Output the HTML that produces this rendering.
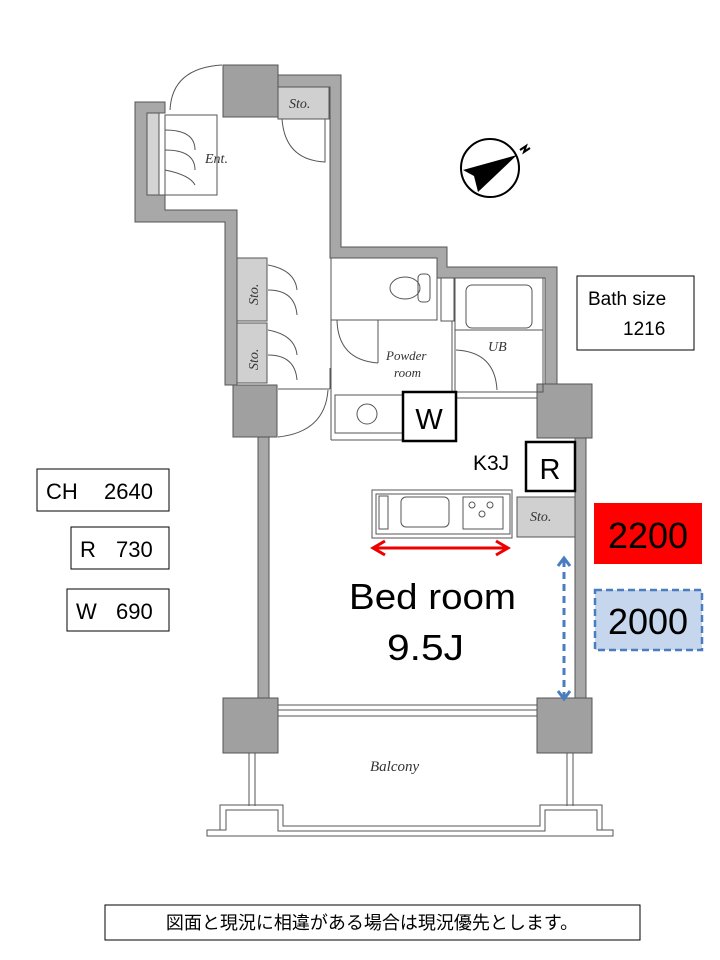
<!DOCTYPE html>
<html><head><meta charset="utf-8"><style>
body{margin:0;background:#fff;}
svg{display:block;}
.t{font-family:"Liberation Sans","Noto Sans CJK JP",sans-serif;}
.s{font-family:"Liberation Serif",serif;font-style:italic;fill:#333;}
</style></head><body>
<svg width="720" height="960" viewBox="0 0 720 960" xmlns="http://www.w3.org/2000/svg">
<g stroke="#555" stroke-width="1">
<path d="M135,102 L165,102 L165,113 L147,113 L147,195 L165,195 L165,210 L237,210 L237,385 L225,385 L225,222 L135,222 Z" fill="#a8a8a8"/>
<rect x="147" y="113" width="12" height="82" fill="#d4d4d4"/>
<rect x="223" y="65" width="55" height="52" fill="#a0a0a0"/>
<path d="M278,75 L341,75 L341,247 L447,247 L447,267 L557,267 L557,385 L545,385 L545,278 L437,278 L437,258 L330,258 L330,87 L278,87 Z" fill="#a8a8a8"/>
<rect x="278" y="87" width="51" height="32" fill="#d0d0d0"/>
<rect x="233" y="385" width="44" height="52" fill="#a0a0a0"/>
<rect x="258" y="437" width="11" height="261" fill="#a8a8a8"/>
<rect x="237" y="258" width="30" height="63" fill="#d0d0d0"/>
<rect x="237" y="323" width="30" height="60" fill="#d0d0d0"/>
<rect x="537" y="384" width="55" height="54" fill="#a0a0a0"/>
<rect x="575" y="438" width="11" height="260" fill="#a8a8a8"/>
<rect x="223" y="698" width="55" height="55" fill="#a0a0a0"/>
<rect x="537" y="698" width="55" height="55" fill="#a0a0a0"/>
</g>
<g fill="none" stroke="#555" stroke-width="1">
<rect x="278" y="705" width="259" height="11"/>
<line x1="278" y1="710" x2="537" y2="710"/>
<rect x="165" y="115" width="52" height="80"/>
<path d="M165,130 Q195,130 195,150 M165,150 Q195,150 195,170 M165,170 Q190,175 195,185"/>
<path d="M170,110 Q172,68 222,65"/>
<path d="M282,119 Q285,160 325,162 L325,119"/>
<path d="M268,265 Q295,270 297,290 M268,290 Q295,290 297,315 M268,330 Q295,335 297,355 M268,355 Q295,355 297,380"/>
<rect x="331" y="258" width="106" height="62"/>
<rect x="441" y="278" width="13" height="43"/>
<ellipse cx="405" cy="288" rx="15" ry="11"/>
<rect x="418" y="274" width="12" height="28" rx="4"/>
<rect x="455" y="278" width="88" height="114"/>
<rect x="466" y="285" width="66" height="43" rx="6"/>
<line x1="455" y1="330" x2="543" y2="330"/>
<path d="M456,350 Q495,352 497,390"/>
<line x1="331" y1="320" x2="331" y2="440"/>
<line x1="337" y1="320" x2="378" y2="320"/>
<line x1="378" y1="320" x2="378" y2="363"/>
<path d="M337,320 Q338,360 378,363"/>
<line x1="452" y1="321" x2="452" y2="392"/>
<rect x="335" y="395" width="68" height="38"/>
<circle cx="367" cy="414" r="10"/>
<line x1="331" y1="440" x2="403" y2="440"/>
<line x1="456" y1="398" x2="537" y2="398"/>
<line x1="456" y1="392" x2="537" y2="392"/>
<line x1="278" y1="389" x2="330" y2="389"/>
<line x1="330" y1="368" x2="330" y2="389"/>
<path d="M278,437 Q325,432 328,390"/>
<rect x="372" y="490" width="140" height="48"/>
<rect x="376" y="494" width="134" height="40"/>
<rect x="379" y="496" width="9" height="33"/>
<rect x="401" y="497" width="48" height="30" rx="5"/>
<rect x="463" y="497" width="40" height="32"/>
<circle cx="472" cy="505" r="3"/><circle cx="490" cy="505" r="3"/><circle cx="482" cy="514" r="3"/>
<path d="M249,753 L249,806 M255,753 L255,806 M567,753 L567,806 M573,753 L573,806"/>
<path d="M207,836 L207,830 L220,830 L220,805 L283,805 L283,826 L540,826 L540,805 L602,805 L602,830 L613,830 L613,836 Z"/>
<path d="M213,830 L226,830 L226,810 L278,810 L278,831 L545,831 L545,810 L597,810 L597,830 L607,830"/>
<circle cx="490" cy="168" r="29" stroke="#000" stroke-width="2"/>
</g>
<rect x="517" y="497" width="58" height="40" fill="#d0d0d0" stroke="#555"/>
<path d="M463,170 L517,155 L478,192 L474,176 Z" fill="#000"/>
<path d="M520,150 l6,-4 l-2,6 l6,-4" fill="none" stroke="#000" stroke-width="2"/>
<text x="289" y="108" class="s" font-size="14">Sto.</text>
<text x="205" y="163" class="s" font-size="14">Ent.</text>
<text x="258" y="305" class="s" font-size="14" transform="rotate(-90 258 305)">Sto.</text>
<text x="258" y="370" class="s" font-size="14" transform="rotate(-90 258 370)">Sto.</text>
<text x="386" y="360" class="s" font-size="13">Powder</text>
<text x="394" y="377" class="s" font-size="13">room</text>
<text x="488" y="351" class="s" font-size="14">UB</text>
<text x="530" y="521" class="s" font-size="14">Sto.</text>
<text x="370" y="771" class="s" font-size="15">Balcony</text>
<g stroke="#e00" stroke-width="3" fill="none">
<line x1="373" y1="548" x2="508" y2="548"/>
<path d="M385,541 L373,548 L385,555 M496,541 L508,548 L496,555"/>
</g>
<g stroke="#4a7cc0" stroke-width="3" fill="none">
<line x1="564" y1="560" x2="564" y2="697" stroke-dasharray="7,5"/>
<path d="M558,566 L564,558 L570,566 M558,691 L564,699 L570,691"/>
</g>
<g class="t">
<text x="349" y="609" font-size="36" textLength="167" lengthAdjust="spacingAndGlyphs">Bed room</text>
<text x="387" y="660" font-size="36" textLength="77" lengthAdjust="spacingAndGlyphs">9.5J</text>
<rect x="577" y="276" width="117" height="74" fill="#fff" stroke="#000"/>
<text x="588" y="305" font-size="19">Bath size</text>
<text x="623" y="335" font-size="19">1216</text>
<rect x="37" y="469" width="132" height="42" fill="#fff" stroke="#000"/>
<text x="46" y="499" font-size="22">CH</text><text x="104" y="499" font-size="22">2640</text>
<rect x="71" y="527" width="98" height="42" fill="#fff" stroke="#000"/>
<text x="80" y="557" font-size="22">R</text><text x="116" y="557" font-size="22">730</text>
<rect x="67" y="589" width="102" height="42" fill="#fff" stroke="#000"/>
<text x="76" y="619" font-size="22">W</text><text x="116" y="619" font-size="22">690</text>
<rect x="403" y="392" width="53" height="49" fill="#fff" stroke="#000" stroke-width="2.5"/>
<text x="429" y="429" font-size="29" text-anchor="middle">W</text>
<rect x="526" y="442" width="49" height="49" fill="#fff" stroke="#000" stroke-width="2.5"/>
<text x="550" y="479" font-size="29" text-anchor="middle">R</text>
<text x="473" y="470" font-size="21">K3J</text>
<rect x="594" y="503" width="108" height="61" fill="#f00"/>
<text x="648" y="548" font-size="36" text-anchor="middle">2200</text>
<rect x="595" y="590" width="107" height="60" fill="#c6d6ec" stroke="#4a7cc0" stroke-width="2.5" stroke-dasharray="7,4"/>
<text x="648" y="634" font-size="36" text-anchor="middle">2000</text>
<rect x="105" y="905" width="535" height="35" fill="#fff" stroke="#000"/>
<text x="372" y="929" font-size="18" text-anchor="middle">図面と現況に相違がある場合は現況優先とします。</text>
</g>
</svg>
</body></html>
